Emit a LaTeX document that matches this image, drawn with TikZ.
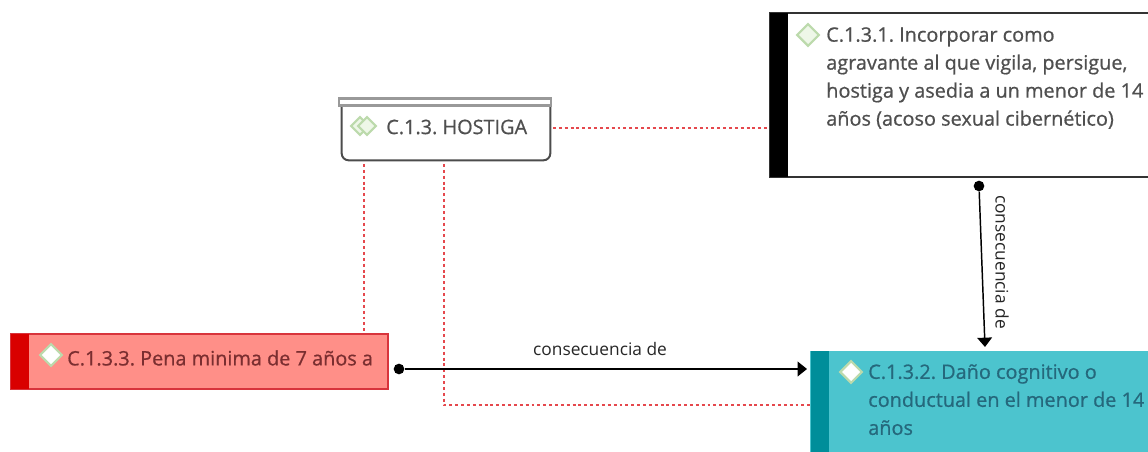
\documentclass[tikz,border=0pt]{standalone}
\usepackage{fontspec}
\setmainfont{Open Sans}
\newfontfamily\medfont[FakeBold=0.7]{Open Sans}
\newfontfamily\plainfont{Open Sans}
\usetikzlibrary{arrows.meta,calc,shapes.geometric}
\definecolor{txt}{HTML}{4F4F4F}
\definecolor{redtxt}{HTML}{7A2E30}
\definecolor{tealtxt}{HTML}{25687C}
\definecolor{redfill}{HTML}{FF8F88}
\definecolor{redbar}{HTML}{D90000}
\definecolor{redline}{HTML}{D8343C}
\definecolor{tealfill}{HTML}{4CC4CE}
\definecolor{tealbar}{HTML}{008E9A}
\definecolor{dia}{HTML}{BCDAAC}
\definecolor{diafill}{HTML}{EEF7E8}
\definecolor{dotred}{HTML}{E5484D}
\tikzset{
  x=0.75pt,y=-0.75pt,
  label text/.style={font=\medfont\fontsize{14.9}{21}\selectfont\frenchspacing,text=txt,align=left,anchor=north west,inner sep=0pt},
  link text/.style={font=\plainfont\fontsize{13}{15}\selectfont,text=black!85,inner sep=0pt},
  rel/.style={dotred,line width=1.3pt,dash pattern=on 2.2pt off 2.2pt},
  flow/.style={black,line width=1.1pt,-{Triangle[length=7pt,width=11pt]}},
  start/.style={circle,fill=black,inner sep=0pt,minimum size=8pt},
  lozenge/.style={diamond,aspect=1,inner sep=0pt,minimum size=17pt,draw=dia,line width=1.7pt,fill=#1},
}
\begin{document}
\begin{tikzpicture}
\useasboundingbox (0,0) rectangle (1148,452);
\clip (0,0) rectangle (1148,452);

% C.1.3 HOSTIGA
\node[minimum width=208*0.75pt,minimum height=62*0.75pt,inner sep=0pt] (hostiga) at (446,129) {};
\draw[black!70,line width=1.5pt,fill=white,rounded corners=5pt]
  ($(hostiga.north west)+(0,6)$) -- (hostiga.south west) -- (hostiga.south east) -- ($(hostiga.north east)+(0,6)$);
\node[draw=black!40,fill=white,line width=1.6pt,minimum width=212*0.75pt,minimum height=7*0.75pt,inner sep=0pt] (hostigatop) at (445,102) {};
\node[lozenge=diafill,minimum size=14pt] (hd1) at (360,126) {};
\node[lozenge=diafill,minimum size=14pt] (hd2) at (367,126) {};
\node[label text,anchor=west] (hostigatext) at (386,127) {C.1.3. HOSTIGA};

% C.1.3.1
\node[draw=black!80,fill=white,line width=1.2pt,minimum width=400*0.75pt,minimum height=164*0.75pt,inner sep=0pt] (cA) at (970,95) {};
\node[fill=black,minimum width=18*0.75pt,minimum height=164*0.75pt,inner sep=0pt] (cAbar) at (779,95) {};
\node[lozenge=diafill] (cAd) at (808,35) {};
\node[label text] (cAtext) at (826,27) {C.1.3.1. Incorporar como\\agravante al que vigila, persigue,\\hostiga y asedia a un menor de 14\\años (acoso sexual cibernético)};

% C.1.3.3
\node[draw=redline,fill=redfill,line width=1pt,minimum width=377*0.75pt,minimum height=55*0.75pt,inner sep=0pt] (cC) at (199.5,361.5) {};
\node[fill=redbar,minimum width=18*0.75pt,minimum height=55*0.75pt,inner sep=0pt] (cCbar) at (20,361.5) {};
\node[lozenge=white] (cCd) at (51,355) {};
\node[label text,text=redtxt,anchor=west] (cCtext) at (67,358) {C.1.3.3. Pena minima de 7 años a};

% C.1.3.2
\node[fill=tealfill,minimum width=400*0.75pt,minimum height=108*0.75pt,inner sep=0pt] (cB) at (1010,405) {};
\node[fill=tealbar,minimum width=18*0.75pt,minimum height=108*0.75pt,inner sep=0pt] (cBbar) at (820,405) {};
\node[lozenge=white] (cBd) at (851,372) {};
\node[label text,text=tealtxt,anchor=north west] (cBtext) at (868,364) {C.1.3.2. Daño cognitivo o\\conductual en el menor de 14\\años};

% connector ends
\coordinate (hr) at (553,128);
\coordinate (aw) at (769,128);
\coordinate (h1) at (364,164);
\coordinate (c1) at (364,333);
\coordinate (h2) at (444,164);
\coordinate (bw) at (810,405);
\node[start] (s1) at (399,369) {};
\coordinate (e1) at (807,369);
\node[start] (s2) at (979,186) {};
\coordinate (e2) at (985,347);

% relations
\draw[rel] (hr) -- (aw);
\draw[rel] (h1) -- (c1);
\draw[rel] (h2) |- (bw);
% flows
\draw[flow] (s1) -- (e1);
\draw[flow] (s2) -- (e2);
\node[link text] (l1) at (600,349) {consecuencia de};
\node[link text,rotate=-90] (l2) at (1002,262) {consecuencia de};
\end{tikzpicture}
\end{document}
